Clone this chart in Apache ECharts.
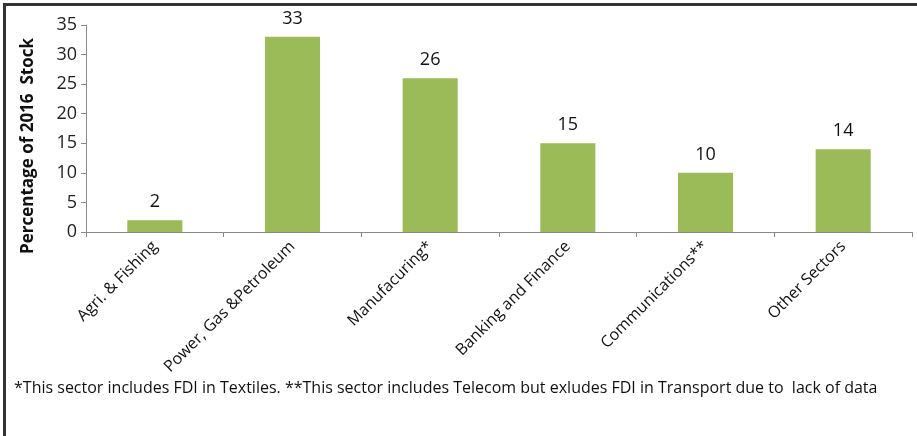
<!DOCTYPE html>
<html>
<head>
<meta charset="utf-8">
<script src="https://cdn.jsdelivr.net/npm/echarts@6/dist/echarts.min.js"></script>
<style>
  html, body { margin: 0; padding: 0; background: #fff; }
  #chart { width: 917px; height: 436px; }
</style>
</head>
<body>
<div id="chart"></div>
<script>
// Sector shares of the 2016 FDI stock
const categories = ['Agri. & Fishing', 'Power, Gas &Petroleum', 'Manufacuring*', 'Banking and Finance', 'Communications**', 'Other Sectors'];
const shares = [2, 33, 26, 15, 10, 14];
const yTicks = { min: 0, max: 35, interval: 5 };
const yTitle = 'Percentage of 2016  Stock';
const footnote = '*This sector includes FDI in Textiles. **This sector includes Telecom but exludes FDI in Transport due to  lack of data';

const FONT = '"Open Sans", sans-serif';
const chart = echarts.init(document.getElementById('chart'), null, { renderer: 'canvas' });

chart.setOption({
  animation: false,
  backgroundColor: '#fff',
  grid: { left: 86, right: 5, top: 25, bottom: 204, containLabel: false },
  graphic: [
    {
      type: 'rect',
      shape: { x: 4.5, y: 4.5, width: 930, height: 460 },
      style: { fill: 'none', stroke: '#333', lineWidth: 3 },
      silent: true
    },
    {
      type: 'text',
      x: 28,
      y: 146,
      rotation: Math.PI / 2,
      style: {
        text: yTitle,
        font: 'bold 17px ' + FONT,
        fill: '#111',
        align: 'center',
        verticalAlign: 'middle'
      }
    },
    {
      type: 'text',
      x: 14,
      y: 388,
      style: { text: footnote, font: '16px ' + FONT, fill: '#111', verticalAlign: 'middle' }
    }
  ],
  xAxis: {
    type: 'category',
    data: categories,
    axisLine: { lineStyle: { color: '#888', width: 1 } },
    axisTick: { show: true, length: 5, alignWithLabel: false, lineStyle: { color: '#888' } },
    axisLabel: { rotate: 45, margin: 12, color: '#111', fontSize: 16, fontFamily: FONT, interval: 0 }
  },
  yAxis: {
    type: 'value',
    min: yTicks.min,
    max: yTicks.max,
    interval: yTicks.interval,
    axisLine: { show: true, lineStyle: { color: '#888' } },
    axisTick: { show: true, length: 5, lineStyle: { color: '#888' } },
    splitLine: { show: false },
    axisLabel: { color: '#222', fontSize: 18, fontFamily: FONT, margin: 9 }
  },
  series: [{
    type: 'bar',
    data: shares,
    barWidth: '40%',
    itemStyle: { color: '#9BBB59' },
    label: { show: true, position: 'top', distance: 9, color: '#111', fontSize: 18, fontFamily: FONT }
  }]
});
</script>
</body>
</html>
